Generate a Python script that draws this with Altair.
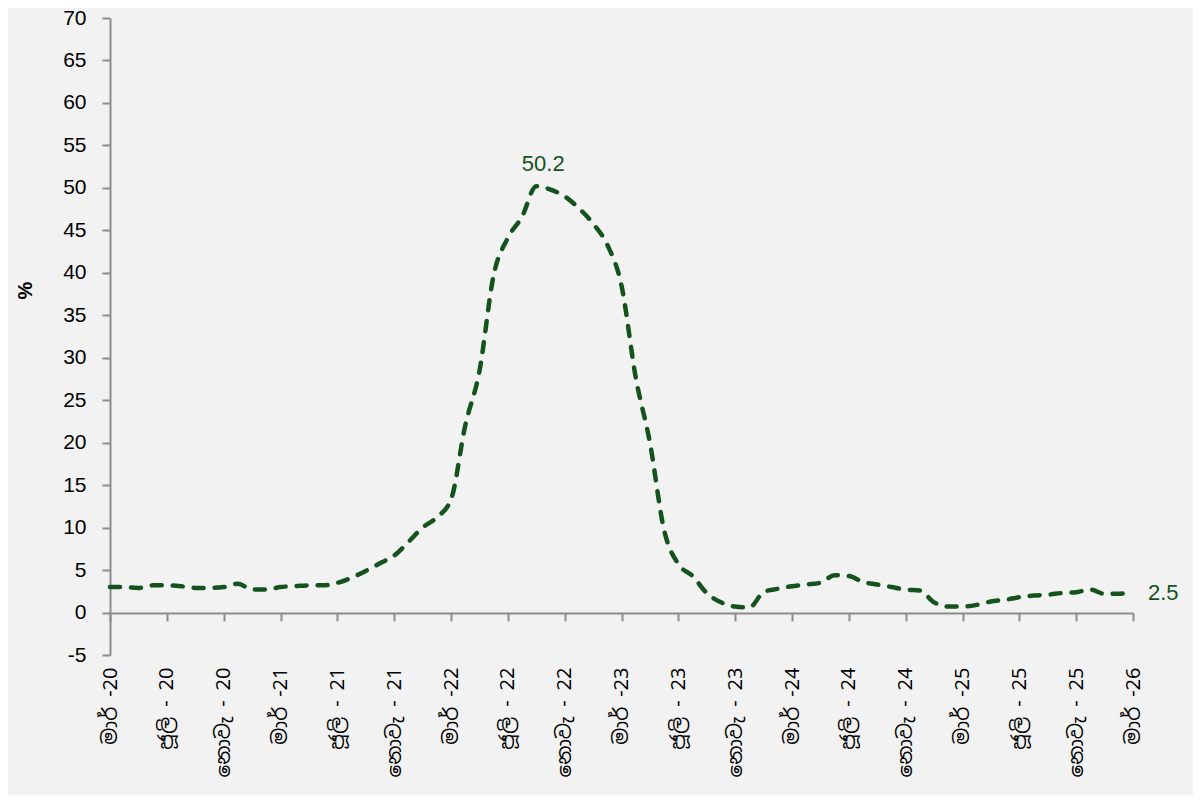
import json
import altair as alt
import pandas as pd

# Monthly core inflation (%), Mar-2020 .. Mar-2026
values = [
    3.0, 3.0, 2.9, 3.2, 3.2, 3.1, 2.9, 2.9, 3.0, 3.4,      # Mar20-Dec20
    2.7, 2.7, 3.0, 3.1, 3.2, 3.2, 3.5, 4.1, 4.9, 5.8, 6.7, 8.3,  # 2021
    10.0, 11.2, 13.3, 22.0, 28.4, 39.7, 44.1, 46.6, 50.2, 49.8, 49.0, 47.6,  # 2022
    45.8, 43.3, 38.5, 27.7, 20.0, 9.7, 5.7, 4.3, 2.3, 1.2, 0.7, 0.6,  # 2023
    2.4, 2.8, 3.1, 3.3, 3.5, 4.4, 4.3, 3.6, 3.3, 3.0, 2.7, 2.6,  # 2024
    1.2, 0.7, 0.7, 0.9, 1.3, 1.5, 1.8, 2.0, 2.1, 2.3, 2.4, 2.7,  # 2025
    2.2, 2.2, 2.5,  # 2026
]

tick_labels = [
    "මාර් -20", "ජූලි - 20", "නොවැ - 20",
    "මාර් -21", "ජූලි - 21", "නොවැ - 21",
    "මාර් -22", "ජූලි - 22", "නොවැ - 22",
    "මාර් -23", "ජූලි - 23", "නොවැ - 23",
    "මාර් -24", "ජූලි - 24", "නොවැ - 24",
    "මාර් -25", "ජූලි - 25", "නොවැ - 25",
    "මාර් -26",
]

label_points = [30, 72]  # indices annotated with values

df = pd.DataFrame({"i": list(range(len(values))), "v": values})
df_peak = df[df["i"] == label_points[0]]
df_last = df[df["i"] == label_points[1]]

green = "#14531c"
axis_gray = "#8c8c8c"
tick_vals = list(range(0, len(values), 4))
label_expr = json.dumps(tick_labels, ensure_ascii=False) + "[round(datum.value / 4)]"

x = alt.X(
    "i:Q",
    scale=alt.Scale(domain=[0, len(values) - 1], nice=False, zero=False),
    axis=alt.Axis(
        values=tick_vals,
        labelExpr=label_expr,
        title=None,
        grid=False,
        offset=-42,
        domainColor=axis_gray,
        domainWidth=2,
        tickColor=axis_gray,
        tickWidth=2,
        tickSize=8,
        labelAngle=270,
        labelAlign="right",
        labelBaseline="middle",
        labelPadding=46,
        labelFontSize=20,
        labelFont="Noto Sans Sinhala, Noto Serif Sinhala, Liberation Sans, sans-serif",
        labelColor="#000000",
        labelOverlap=False,
    ),
)

y = alt.Y(
    "v:Q",
    scale=alt.Scale(domain=[-5, 70], nice=False, zero=False),
    axis=alt.Axis(
        values=list(range(-5, 75, 5)),
        labelExpr="'' + datum.value",
        title="%",
        titleFontWeight="bold",
        titleFontSize=20,
        titleFont="Liberation Sans",
        titleColor="#000000",
        titleAngle=270,
        titleX=-75,
        titleY=272,
        titleAlign="center",
        titleBaseline="bottom",
        grid=False,
        domainColor=axis_gray,
        domainWidth=2,
        tickColor=axis_gray,
        tickWidth=2,
        tickSize=8,
        labelFontSize=21,
        labelFont="Liberation Sans",
        labelColor="#000000",
        labelPadding=16,
    ),
)

line = alt.Chart(df).mark_line(
    color=green, strokeWidth=4.5, strokeDash=[10, 11], strokeCap="round",
    interpolate="monotone",
).encode(x=x, y=y)

peak_text = alt.Chart(df_peak).mark_text(
    color=green, fontSize=22, font="Liberation Sans", dx=7, dy=-15,
    baseline="alphabetic", align="center",
).encode(x="i:Q", y="v:Q", text=alt.Text("v:Q", format=".1f"))

last_text = alt.Chart(df_last).mark_text(
    color=green, fontSize=22, font="Liberation Sans", dx=15, dy=9,
    baseline="alphabetic", align="left",
).encode(x="i:Q", y="v:Q", text=alt.Text("v:Q", format=".1f"))

chart = alt.layer(line, peak_text, last_text).properties(
    width=1023,
    height=637,
    autosize=alt.AutoSizeParams(type="none"),
    padding={"left": 102, "top": 10, "right": 60, "bottom": 140},
    background="#f2f2f2",
).configure_view(stroke=None)

chart.save("out.html", embed_options={"renderer": "svg", "actions": False})
